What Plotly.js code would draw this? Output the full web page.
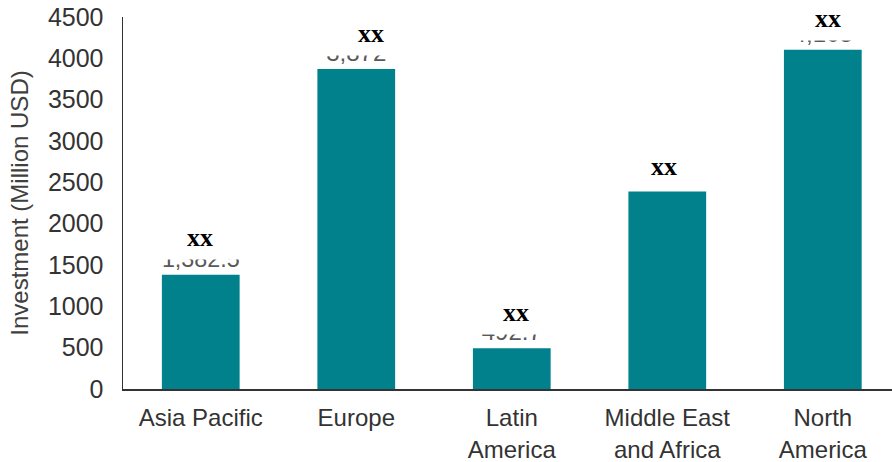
<!DOCTYPE html>
<html>
<head>
<meta charset="utf-8">
<script src="https://cdn.plot.ly/plotly-3.0.1.min.js"></script>
<style>
  html, body { margin: 0; padding: 0; background: #ffffff; }
  #chart { width: 892px; height: 462px; }
</style>
</head>
<body>
<div id="chart"></div>
<script>
// Regional investment, million USD
const regions = ["Asia Pacific", "Europe", "Latin<br>America", "Middle East<br>and Africa", "North<br>America"];
const investment = [1382.5, 3872, 492.7, 2390, 4105];
const markerText = ["xx", "xx", "xx", "xx", "xx"];
const yTicks = [0, 500, 1000, 1500, 2000, 2500, 3000, 3500, 4000, 4500];

// per-bar placement of the "xx" marker (pixels)
const markShiftX = [-1, 15, 4, -3, 5];
const markShiftY = [38, 36, 36, 25, 32];

const valueText = investment.map(v => v.toLocaleString("en-US"));

const bars = {
  type: "bar",
  x: regions,
  y: investment,
  width: 0.5,
  marker: { color: "#00818B" },
  text: valueText,
  textposition: "outside",
  textfont: { family: "Liberation Sans, Arial, sans-serif", size: 24, color: "#595959" },
  cliponaxis: false,
  hoverinfo: "x+y"
};

const annotations = regions.map((r, i) => ({
  x: r,
  y: investment[i],
  xref: "x",
  yref: "y",
  text: "<b>" + markerText[i] + "</b>",
  showarrow: false,
  xshift: markShiftX[i],
  yshift: markShiftY[i],
  yanchor: "middle",
  width: 96,
  height: 40,
  borderpad: 2,
  font: { family: "Liberation Serif, Times New Roman, serif", size: 26, color: "#000000" },
  bgcolor: "#ffffff"
}));

const layout = {
  width: 892,
  height: 462,
  margin: { l: 123, r: 0, t: 17, b: 73 },
  paper_bgcolor: "#ffffff",
  plot_bgcolor: "#ffffff",
  showlegend: false,
  font: { family: "Liberation Sans, Arial, sans-serif", size: 24, color: "#333333" },
  xaxis: {
    type: "category",
    range: [-0.5, 4.445],
    showgrid: false,
    zeroline: false,
    showline: true,
    linecolor: "#333333",
    linewidth: 1.5,
    ticks: "",
    ticklabelstandoff: 7,
    tickfont: { size: 24, color: "#333333" },
    fixedrange: true
  },
  yaxis: {
    range: [0, 4500],
    tickvals: yTicks,
    ticktext: yTicks.map(String),
    showgrid: false,
    zeroline: false,
    showline: true,
    linecolor: "#333333",
    linewidth: 1.5,
    ticks: "",
    ticklabelstandoff: 13,
    tickfont: { size: 25, color: "#333333" },
    title: {
      text: "Investment (Million USD)",
      font: { size: 24, color: "#404040" },
      standoff: 12
    },
    fixedrange: true
  },
  annotations: annotations
};

Plotly.newPlot("chart", [bars], layout, { displayModeBar: false, staticPlot: true });
</script>
</body>
</html>
